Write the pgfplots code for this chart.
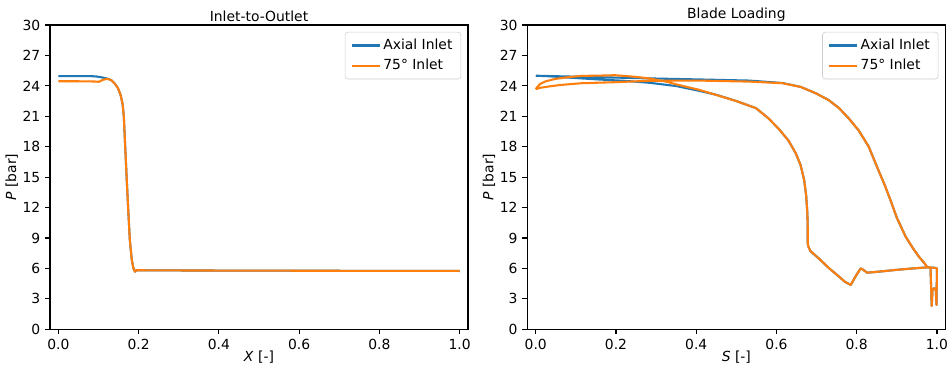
\documentclass[border=0pt]{standalone}
\usepackage{fontspec}
\setmainfont{DejaVu Sans}
\usepackage{pgfplots}
\pgfplotsset{compat=1.18}
\definecolor{mblue}{HTML}{1F77B4}
\definecolor{morange}{HTML}{FF7F0E}
\pgfplotsset{
 mystyle/.style={
  width=301pt, height=219.1pt, scale only axis,
  xmin=-0.021, xmax=1.021, ymin=0, ymax=30,
  xtick={0,0.2,0.4,0.6,0.8,1}, ytick={0,3,6,9,12,15,18,21,24,27,30},
  xticklabel style={/pgf/number format/fixed, /pgf/number format/fixed zerofill, /pgf/number format/precision=1},
  /pgf/number format/assume math mode=true,
  tick align=outside, tick pos=left, major tick length=3.5pt,
  every tick/.style={black, line width=0.8pt},
  axis line style={line width=0.8pt},
  tick label style={font=\fontsize{10}{12}\selectfont},
  label style={font=\fontsize{10}{12}\selectfont},
  xlabel style={yshift=6pt},
  ylabel style={yshift=-3.5pt},
  title style={font=\fontsize{10}{12}\selectfont, yshift=-7pt},
  legend style={at={(1,1)}, anchor=north east, xshift=-5pt, yshift=-5pt, draw=black!20, rounded corners=2pt, fill=white, font=\fontsize{10}{12}\selectfont, row sep=1.5pt, inner xsep=4pt, inner ysep=3pt},
  legend cell align=left,
  legend image code/.code={\draw[#1, line width=1.5pt] (0pt,0pt) -- (20pt,0pt);},
  every axis plot/.append style={line width=1.5pt, no markers, line join=round},
 }
}
\begin{document}
\begin{tikzpicture}
\path[use as bounding box] (-36pt,-27.1pt) rectangle (646.6pt,237.1pt);
\begin{axis}[mystyle, title={Inlet-to-Outlet}, xlabel={\textit{X} [-]}, ylabel={\textit{P} [bar]}]
\addplot[mblue] coordinates {
(0,24.96) (0.05,24.96) (0.085,24.95) (0.095,24.92) (0.105,24.86) (0.115,24.78) (0.125,24.68) (0.132,24.55) (0.14,24.25) (0.148,23.8) (0.155,23.1) (0.16,22.2) (0.163,21.0) (0.166,18.4) (0.170,15.0) (0.174,11.8) (0.178,8.8) (0.183,6.8) (0.187,6.0) (0.191,5.68) (0.195,5.82) (0.3,5.8) (0.5,5.78) (0.8,5.76) (1.0,5.75)
};
\addlegendentry{Axial Inlet}
\addplot[morange] coordinates {
(0,24.45) (0.05,24.45) (0.09,24.43) (0.1,24.4) (0.104,24.45) (0.11,24.58) (0.118,24.66) (0.125,24.67) (0.132,24.55) (0.14,24.25) (0.148,23.8) (0.155,23.1) (0.16,22.2) (0.163,21.0) (0.166,18.4) (0.170,15.0) (0.174,11.8) (0.178,8.8) (0.183,6.8) (0.187,6.0) (0.191,5.68) (0.195,5.82) (0.3,5.8) (0.5,5.78) (0.8,5.76) (1.0,5.75)
};
\addlegendentry{75° Inlet}
\end{axis}
\begin{axis}[mystyle, at={(343.7pt,0pt)}, title={Blade Loading}, xlabel={\textit{S} [-]}, ylabel={\textit{P} [bar]}]
\addplot[mblue] coordinates {
(0,25.0) (0.05,24.95) (0.16,24.85) (0.3,24.72) (0.42,24.62) (0.532,24.52) (0.615,24.28) (0.66,23.9) (0.698,23.27) (0.73,22.6) (0.756,21.8) (0.78,20.8) (0.805,19.6) (0.83,18.0) (0.855,15.6) (0.87,14.2) (0.884,12.75) (0.9,11.0) (0.922,9.13) (0.94,8.0) (0.955,7.16) (0.967,6.6) (0.975,6.17) (0.984,6.02)
(0.987,2.3) (0.989,3.9) (0.993,4.05) (0.997,3.9) (0.999,2.4) (1.0,6.0)
(0.996,6.05) (0.979,6.11) (0.94,6.0) (0.897,5.85) (0.86,5.7) (0.826,5.58) (0.815,5.9) (0.81,6.0) (0.80,5.4) (0.785,4.37) (0.77,4.7) (0.756,5.19) (0.731,6.02) (0.705,7.0) (0.685,7.7) (0.679,8.2) (0.678,8.5) (0.678,10.0) (0.677,11.44) (0.674,13.2) (0.669,14.73) (0.66,16.2) (0.648,17.36) (0.63,18.6) (0.607,19.7) (0.58,20.8) (0.549,21.8)
(0.5,22.5) (0.45,23.12) (0.408,23.5) (0.35,23.98) (0.284,24.3) (0.22,24.5) (0.16,24.62) (0.08,24.82) (0.03,24.95) (0,25.0)
};
\addlegendentry{Axial Inlet}
\addplot[morange] coordinates {
(0.0,23.67) (0.01,23.8) (0.031,23.93) (0.06,24.08) (0.114,24.26) (0.197,24.36) (0.284,24.5) (0.408,24.52) (0.532,24.42) (0.615,24.26) (0.66,23.9) (0.698,23.27) (0.73,22.6) (0.756,21.8) (0.78,20.8) (0.805,19.6) (0.83,18.0) (0.855,15.6) (0.87,14.2) (0.884,12.75) (0.9,11.0) (0.922,9.13) (0.94,8.0) (0.955,7.16) (0.967,6.6) (0.975,6.17) (0.984,6.02)
(0.987,2.3) (0.989,3.9) (0.993,4.05) (0.997,3.9) (0.999,2.4) (1.0,6.0)
(0.996,6.05) (0.979,6.11) (0.94,6.0) (0.897,5.85) (0.86,5.7) (0.826,5.58) (0.815,5.9) (0.81,6.0) (0.80,5.4) (0.785,4.37) (0.77,4.7) (0.756,5.19) (0.731,6.02) (0.705,7.0) (0.685,7.7) (0.679,8.2) (0.678,8.5) (0.678,10.0) (0.677,11.44) (0.674,13.2) (0.669,14.73) (0.66,16.2) (0.648,17.36) (0.63,18.6) (0.607,19.7) (0.58,20.8) (0.549,21.8) (0.5,22.5) (0.45,23.1) (0.408,23.6) (0.35,24.15) (0.325,24.42) (0.28,24.75) (0.242,24.91) (0.197,25.05) (0.16,25.01) (0.114,24.98) (0.08,24.85) (0.048,24.68) (0.025,24.45) (0.011,24.19) (0.003,23.85) (0.0,23.67)
};
\addlegendentry{75° Inlet}
\end{axis}
\end{tikzpicture}
\end{document}
